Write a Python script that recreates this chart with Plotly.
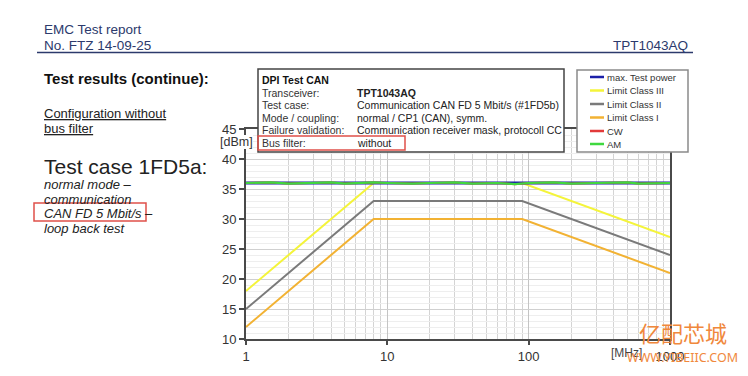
import plotly.graph_objects as go

# ---------------- data ----------------
freq_limit = [1, 8, 90, 1000]
limit_class3 = [18, 36, 36, 27]
limit_class2 = [15, 33, 33, 24]
limit_class1 = [12, 30, 30, 21]

freq_test = [1, 1.5, 2, 3, 4, 5, 6, 8, 10, 15, 20, 30, 40, 50, 60, 80, 100,
             150, 200, 300, 400, 500, 600, 800, 1000]
max_test_power = [36.0] * 25
am_power = [36.0, 36.1, 35.9, 36.0, 36.1, 35.9, 36.0, 36.1, 36.0, 35.9, 36.0,
            36.1, 35.9, 36.0, 36.0, 35.8, 36.0, 36.1, 35.9, 36.0, 36.0, 36.1,
            35.9, 36.0, 36.0]
cw_power = list(am_power)

y_ticks = [10, 15, 20, 25, 30, 35, 40, 45]
x_ticks = [1, 10, 100, 1000]
x_ticktext = ["1", "10", "100", "1000"]

legend_names = ["max. Test power", "Limit Class III", "Limit Class II",
                "Limit Class I", "CW", "AM"]
legend_colors = ["#1b1fa8", "#f4f43a", "#7a7a7a", "#f2b233", "#e23a3a", "#3fd83f"]

info_labels = ["Transceiver:", "Test case:", "Mode / coupling:",
               "Failure validation:", "Bus filter:"]
info_values = ["<b>TPT1043AQ</b>", "Communication CAN FD 5 Mbit/s (#1FD5b)",
               "normal / CP1 (CAN), symm.",
               "Communication receiver mask, protocoll CC", "without"]

# ---------------- geometry helpers ----------------
W, H = 748, 376
OFF = 8  # page body margin offset
L, R, T, B = 246, 670, 129, 339


def px(x):
    return (x - L) / (R - L)


def py(y):
    return (B - y) / (B - T)


FONT = "Liberation Sans, Arial, sans-serif"
NAVY = "#2c3a6c"

fig = go.Figure()

lw = 2
fig.add_trace(go.Scatter(x=freq_limit, y=limit_class3, mode="lines",
                         line=dict(color=legend_colors[1], width=lw), showlegend=False))
fig.add_trace(go.Scatter(x=freq_limit, y=limit_class2, mode="lines",
                         line=dict(color=legend_colors[2], width=lw), showlegend=False))
fig.add_trace(go.Scatter(x=freq_limit, y=limit_class1, mode="lines",
                         line=dict(color=legend_colors[3], width=lw), showlegend=False))
fig.add_trace(go.Scatter(x=freq_test, y=max_test_power, mode="lines",
                         line=dict(color=legend_colors[0], width=3), showlegend=False))
fig.add_trace(go.Scatter(x=freq_test, y=cw_power, mode="lines",
                         line=dict(color=legend_colors[4], width=2), showlegend=False))
fig.add_trace(go.Scatter(x=freq_test, y=am_power, mode="lines",
                         line=dict(color=legend_colors[5], width=2.2), showlegend=False))

shapes = []
ann = []


def text(x, y, s, size=13, color="#222", anchor="left", bold=False, italic=False,
         bg=None, family=FONT):
    if bold:
        s = "<b>" + s + "</b>"
    if italic:
        s = "<i>" + s + "</i>"
    d = dict(x=px(x), y=py(y), xref="paper", yref="paper", text=s, showarrow=False,
             xanchor=anchor, yanchor="middle", borderpad=0, borderwidth=0,
             font=dict(family=family, size=size, color=color))
    if bg:
        d["bgcolor"] = bg
    ann.append(d)


def rect(x0, y0, x1, y1, color, width=1.5, fill="rgba(0,0,0,0)"):
    shapes.append(dict(type="rect", xref="paper", yref="paper",
                       x0=px(x0), x1=px(x1), y0=py(y1), y1=py(y0),
                       line=dict(color=color, width=width), fillcolor=fill, layer="above"))


def hline(x0, x1, y, color, width=1.5):
    shapes.append(dict(type="line", xref="paper", yref="paper",
                       x0=px(x0), x1=px(x1), y0=py(y), y1=py(y),
                       line=dict(color=color, width=width), layer="above"))


# header
text(44, 30, "EMC Test report", 13.5, NAVY)
text(44, 45, "No. FTZ 14-09-25", 13.5, NAVY)
text(688, 45, "TPT1043AQ", 13.5, NAVY, anchor="right")
hline(37, 693, 52.5, NAVY, 1.5)

# left side description
text(44, 78, "Test results (continue):", 15, "#111", bold=True)
text(44, 113, "<u>Configuration without</u>", 13, "#222")
text(44, 128, "<u>bus filter</u>", 13, "#222")
text(44, 166, "Test case 1FD5a:", 21, "#222")
text(44, 184, "normal mode –", 13, "#222", italic=True)
text(44, 199, "communication", 13, "#222", italic=True)
text(44, 213, "CAN FD 5 Mbit/s –", 13, "#222", italic=True)
text(44, 228, "loop back test", 13, "#222", italic=True)
rect(34, 203, 146, 221, "#e0504a", 1.5)

# info box
rect(258, 69, 564, 152, "#444444", 1.5, fill="white")
text(262, 80, "DPI Test CAN", 10.5, "#111", bold=True)
rows_y = [93, 105, 117.5, 130, 142.5]
for lab, val, yy in zip(info_labels, info_values, rows_y):
    text(262, yy, lab, 10.5, "#333")
    text(357, yy, val, 10.5, "#222")
rect(258, 136, 405, 150, "#e0504a", 1.5)

# legend box
rect(577, 70, 688, 152, "#8a8a8a", 1.5, fill="white")
leg_y = [77, 90.5, 104, 117.5, 131, 144]
for name, col, yy in zip(legend_names, legend_colors, leg_y):
    hline(590, 604, yy, col, 2.5)
    text(607, yy, name, 9.5, "#333")

# axis unit labels
text(253, 142, "[dBm]", 12.5, "#333", anchor="right", bg="white")
text(626, 353, "[MHz]", 12, "#444", anchor="center")

# watermark
text(683, 332, "亿配芯城", 22, "#f0883c", anchor="center", family="Noto Sans CJK SC")
text(682, 357, "WWW.YIBEIIC.COM", 12.5, "#f0883c", anchor="center",
     family="Noto Sans, sans-serif")

fig.update_layout(
    width=W - OFF, height=H - OFF,
    margin=dict(l=L - OFF, r=W - R, t=T - OFF, b=H - B, pad=0),
    paper_bgcolor="white", plot_bgcolor="white",
    showlegend=False,
    shapes=shapes, annotations=ann,
    font=dict(family=FONT, size=13, color="#333"),
    xaxis=dict(type="log", range=[0, 3], tickvals=x_ticks, ticktext=x_ticktext,
               showgrid=True, gridcolor="#c4c4c4", gridwidth=1,
               minor=dict(dtick="D1", showgrid=True, gridcolor="#d4d4d4", gridwidth=1,
                          ticks=""),
               showline=True, linecolor="#4a4a4a", linewidth=2, mirror=True,
               ticks="outside", ticklen=4, tickcolor="#4a4a4a", tickwidth=1.5,
               tickfont=dict(family=FONT, size=13, color="#333"), zeroline=False),
    yaxis=dict(range=[10, 45], tickvals=y_ticks,
               showgrid=True, gridcolor="#d0d0d0", gridwidth=1,
               minor=dict(dtick=1, showgrid=True, gridcolor="#eeeeee", gridwidth=1,
                          ticks=""),
               showline=True, linecolor="#4a4a4a", linewidth=2, mirror=True,
               ticks="outside", ticklen=5, tickcolor="#4a4a4a", tickwidth=1.5,
               tickfont=dict(family=FONT, size=13, color="#333"), zeroline=False),
)

fig.write_html("out.html")
